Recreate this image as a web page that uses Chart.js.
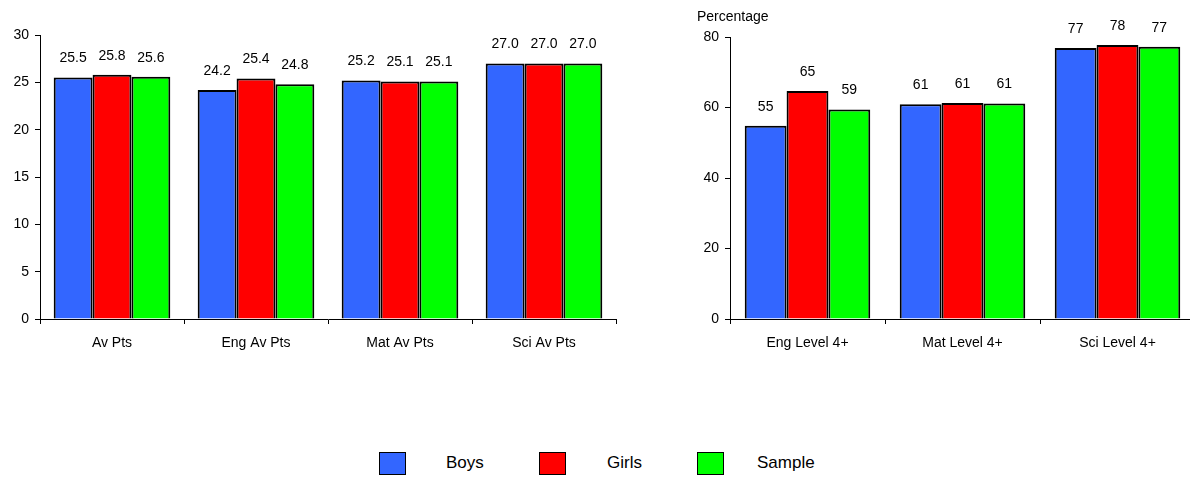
<!DOCTYPE html>
<html lang="en">
<head>
  <meta charset="UTF-8">
  <title>Points and Level 4+ by Gender</title>
  <script src="https://cdn.jsdelivr.net/npm/chart.js"></script>
  <style>
    html, body {
      margin: 0;
      padding: 0;
      background: #fff;
      width: 1190px;
      height: 478px;
      overflow: hidden;
      font-family: "Liberation Sans", Arial, sans-serif;
    }
    .wrap { position: relative; width: 1190px; height: 478px; overflow: hidden; }
    #leftChart { position: absolute; left: 0; top: 0; }
    #rightChart { position: absolute; left: 640px; top: 0; }
    .ytitle { position: absolute; left: 697px; top: 8px; font-size: 14px; color: #000; }
    .legend-item { position: absolute; top: 451px; height: 25px; display: flex; align-items: center; }
    .legend-box { width: 25px; height: 21px; border: 1.5px solid #000; }
    .legend-text { position: absolute; font-size: 17px; color: #000; top: 2px; }
  </style>
</head>
<body>
<div class="wrap">
  <canvas id="leftChart" width="620" height="360"></canvas>
  <canvas id="rightChart" width="560" height="360"></canvas>
  <div class="ytitle">Percentage</div>

  <div class="legend-item" style="left:379px"><div class="legend-box" style="background:#3366ff"></div></div>
  <div class="legend-text" style="left:446px; top:453px">Boys</div>
  <div class="legend-item" style="left:539px"><div class="legend-box" style="background:#ff0000"></div></div>
  <div class="legend-text" style="left:607px; top:453px">Girls</div>
  <div class="legend-item" style="left:697px"><div class="legend-box" style="background:#00ff00"></div></div>
  <div class="legend-text" style="left:757px; top:453px">Sample</div>
</div>

<script>
  // left panel: average points
  const leftCats = ['Av Pts', 'Eng Av Pts', 'Mat Av Pts', 'Sci Av Pts'];
  const leftBoys = [25.5, 24.2, 25.2, 27.0];
  const leftGirls = [25.8, 25.4, 25.1, 27.0];
  const leftSample = [25.6, 24.8, 25.1, 27.0];

  // right panel: percentage at level 4+
  const rightCats = ['Eng Level 4+', 'Mat Level 4+', 'Sci Level 4+'];
  const rightBoys = [54.8, 60.9, 76.9];
  const rightGirls = [64.7, 61.3, 77.7];
  const rightSample = [59.4, 61.1, 77.2];

  const seriesNames = ['Boys', 'Girls', 'Sample'];
  const seriesColors = ['#3366ff', '#ff0000', '#00ff00'];
  const fontFamily = '"Liberation Sans", Arial, sans-serif';

  // draws the value above each bar
  const valueLabels = {
    id: 'valueLabels',
    afterDatasetsDraw(chart, args, opts) {
      const ctx = chart.ctx;
      ctx.save();
      ctx.font = '14px ' + fontFamily;
      ctx.fillStyle = '#000';
      ctx.textAlign = 'center';
      ctx.textBaseline = 'middle';
      chart.data.datasets.forEach((ds, i) => {
        chart.getDatasetMeta(i).data.forEach((bar, j) => {
          ctx.fillText(ds.data[j].toFixed(opts.decimals), bar.x, bar.y - 19);
        });
      });
      ctx.restore();
    }
  };

  function makeChart(id, cats, boys, girls, sample, cfg) {
    const values = [boys, girls, sample];
    new Chart(document.getElementById(id), {
      type: 'bar',
      data: {
        labels: cats,
        datasets: values.map((v, i) => ({
          label: seriesNames[i],
          data: v,
          backgroundColor: seriesColors[i],
          borderColor: '#000',
          borderWidth: 2,
          categoryPercentage: 0.81,
          barPercentage: 1.0
        }))
      },
      options: {
        responsive: false,
        animation: false,
        layout: { padding: cfg.padding },
        plugins: {
          legend: { display: false },
          tooltip: { enabled: false },
          valueLabels: { decimals: cfg.decimals }
        },
        scales: {
          x: {
            grid: { drawOnChartArea: false, tickLength: 5, color: '#000', lineWidth: 1 },
            border: { color: '#000', width: 1 },
            ticks: { color: '#000', font: { family: fontFamily, size: 14 }, padding: 11, maxRotation: 0 },
            afterFit: s => { s.height = 41; }
          },
          y: {
            min: 0,
            max: cfg.max,
            grid: { drawOnChartArea: false, tickLength: 5, color: '#000', lineWidth: 1 },
            border: { color: '#000', width: 1 },
            ticks: { stepSize: cfg.step, color: '#000', font: { family: fontFamily, size: 14 }, padding: 6 },
            afterFit: s => { s.width = cfg.axisWidth; }
          }
        }
      },
      plugins: [valueLabels]
    });
  }

  makeChart('leftChart', leftCats, leftBoys, leftGirls, leftSample,
    { max: 30, step: 5, decimals: 1, axisWidth: 40, padding: { top: 35, right: 4 } });
  makeChart('rightChart', rightCats, rightBoys, rightGirls, rightSample,
    { max: 80, step: 20, decimals: 0, axisWidth: 90, padding: { top: 37, right: 5 } });
</script>
</body>
</html>
